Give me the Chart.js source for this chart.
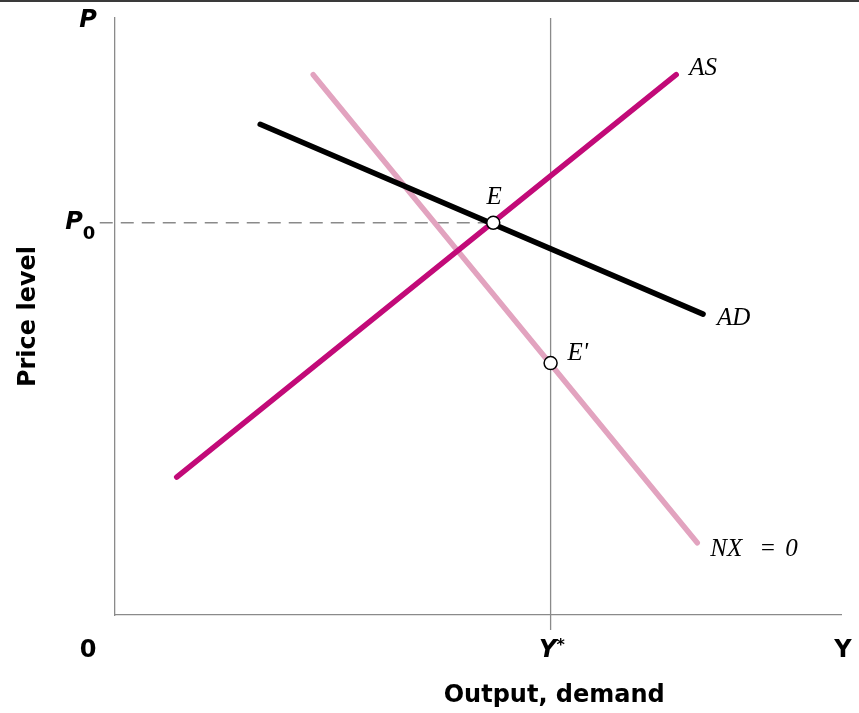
<!DOCTYPE html>
<html>
<head>
<meta charset="utf-8">
<script src="https://cdn.jsdelivr.net/npm/chart.js@4"></script>
<style>
  body { margin: 0; background: #fff; }
  canvas { display: block; }
</style>
</head>
<body>
<canvas id="adas" width="859" height="713"></canvas>
<script>
// curve end points (0..100 on both axes)
var asX = [8.5, 77.3];
var asY = [23.1, 90.5];
var adX = [20.0, 81.0];
var adY = [82.2, 50.4];
var nxX = [27.3, 80.2];
var nxY = [90.5, 12.1];

var yStar = 60;
var p0 = 65.7;
var eqNames = ["E", "E'"];
var eqX = [52.1, 60.0];
var eqY = [65.7, 42.2];

function pts(xs, ys) {
  return xs.map(function (x, i) { return { x: x, y: ys[i] }; });
}

var labelPlugin = {
  id: 'labels',
  afterDraw: function (chart) {
    var c = chart.ctx, xs = chart.scales.x, ys = chart.scales.y;
    var X = function (v) { return xs.getPixelForValue(v); };
    var Y = function (v) { return ys.getPixelForValue(v); };
    c.save();
    // top frame line
    c.fillStyle = '#3a3a3a';
    c.fillRect(0, 0, chart.width, 2);

    c.fillStyle = '#000';
    c.textBaseline = 'middle';
    var bold = 'bold 24px "DejaVu Sans", sans-serif';
    c.font = 'italic ' + bold;
    c.textAlign = 'center';
    c.fillText('P', X(0) - 27, Y(100) + 3);
    c.fillText('P', X(0) - 41, Y(p0));
    c.font = 'bold 18px "DejaVu Sans", sans-serif';
    c.fillText('0', X(0) - 26, Y(p0) + 12);

    c.font = bold;
    c.fillText('0', X(0) - 27, Y(0) + 36);
    c.font = 'italic ' + bold;
    c.fillText('Y', X(yStar) - 3, Y(0) + 36);
    c.font = 'bold 16px "DejaVu Sans", sans-serif';
    c.fillText('*', X(yStar) + 10, Y(0) + 31);
    c.font = bold;
    c.fillText('Y', X(100) + 2, Y(0) + 36);
    c.fillText('Output, demand', X(60.5), Y(0) + 81);

    c.save();
    c.translate(29, Y(50));
    c.rotate(-Math.PI / 2);
    c.fillText('Price level', 0, 0);
    c.restore();

    c.font = 'italic 25px "Liberation Serif", serif';
    c.textAlign = 'left';
    c.fillText('AS', X(asX[1]) + 13, Y(asY[1]) - 6);
    c.fillText('AD', X(adX[1]) + 14, Y(adY[1]) + 4);
    var nx = X(nxX[1]), ny = Y(nxY[1]) + 7;
    c.fillText('NX', nx + 13, ny);
    c.fillText('=', nx + 62, ny);
    c.fillText('0', nx + 88, ny);
    c.textAlign = 'center';
    c.fillText(eqNames[0], X(eqX[0]) + 1, Y(eqY[0]) - 25);
    c.textAlign = 'left';
    c.fillText(eqNames[1], X(eqX[1]) + 17, Y(eqY[1]) - 10);
    c.restore();
  }
};

new Chart(document.getElementById('adas'), {
  type: 'scatter',
  data: {
    datasets: [
      {
        label: 'Y*', order: 5,
        data: [{ x: yStar, y: 100 }, { x: yStar, y: -2.5 }],
        showLine: true, borderColor: '#8a8a8a', borderWidth: 1.3,
        pointRadius: 0, clip: false
      },
      {
        label: 'P0', order: 5,
        data: [{ x: -2.1, y: p0 }, { x: eqX[0], y: p0 }],
        showLine: true, borderColor: '#8a8a8a', borderWidth: 1.3,
        borderDash: [13, 8], pointRadius: 0, clip: false
      },
      {
        label: 'NX = 0', order: 4,
        data: pts(nxX, nxY),
        showLine: true, borderColor: '#e2a3bf', borderWidth: 5.5,
        borderCapStyle: 'round', pointRadius: 0
      },
      {
        label: 'AD', order: 3,
        data: pts(adX, adY),
        showLine: true, borderColor: '#000', borderWidth: 5.5,
        borderCapStyle: 'round', pointRadius: 0
      },
      {
        label: 'AS', order: 2,
        data: pts(asX, asY),
        showLine: true, borderColor: '#c20a78', borderWidth: 5.5,
        borderCapStyle: 'round', pointRadius: 0
      },
      {
        label: 'equilibria', order: 0,
        data: pts(eqX, eqY),
        showLine: false, pointRadius: 6.5, pointBorderWidth: 1.5,
        pointBackgroundColor: '#fff', pointBorderColor: '#000'
      }
    ]
  },
  options: {
    responsive: false,
    animation: false,
    layout: { padding: { left: 115, right: 18, top: 18, bottom: 98 } },
    plugins: { legend: { display: false }, tooltip: { enabled: false } },
    scales: {
      x: {
        type: 'linear', min: 0, max: 100,
        ticks: { display: false }, grid: { display: false, drawTicks: false },
        border: { display: true, color: '#8a8a8a', width: 1.3 }
      },
      y: {
        type: 'linear', min: 0, max: 100,
        ticks: { display: false }, grid: { display: false, drawTicks: false },
        border: { display: true, color: '#8a8a8a', width: 1.3 }
      }
    }
  },
  plugins: [labelPlugin]
});
</script>
</body>
</html>
